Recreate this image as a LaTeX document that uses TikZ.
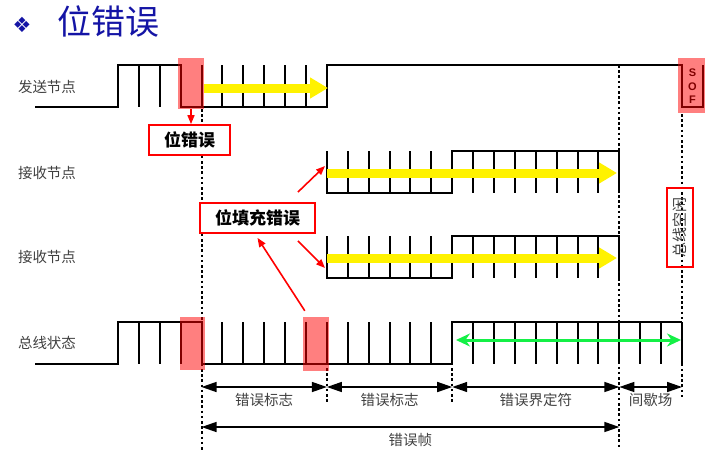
\documentclass[tikz,border=0pt]{standalone}
\usepackage{fontspec}
\setmainfont{Noto Sans CJK SC}
\newfontfamily\symfont{DejaVu Sans}
\newfontfamily\sofont{Liberation Sans}
\usetikzlibrary{arrows.meta}

\definecolor{titleblue}{RGB}{20,20,165}
\definecolor{signalgreen}{RGB}{20,240,70}
\newcommand\bitx[1]{118+#1*20.89}

\begin{document}
\begin{tikzpicture}[x=1pt, y=-1pt,
        every node/.style={font=\fontsize{14.5}{16}\selectfont, text=black!75},
        wave/.style={line width=2pt, line join=miter},
        errbox/.style={fill=red, fill opacity=0.5, draw=none, inner sep=0pt},
        tag/.style={draw=red, line width=1.8pt, fill=white, text=black, inner sep=0pt, font=\fontsize{17}{19}\selectfont\bfseries},
        guide/.style={line width=2pt, dash pattern=on 2.6pt off 2.6pt},
        flow/.style={yellow, line width=9pt, -{Triangle[length=18pt,width=20pt]}},
        hint/.style={red, line width=1.6pt, -{Triangle[length=9pt,width=7pt]}},
        span/.style={line width=1.5pt, {Triangle[length=15pt,width=10pt]}-{Triangle[length=15pt,width=10pt]}}
    ]
    \useasboundingbox (0,0) rectangle (724,456);

    % title
    \node[text=titleblue, font=\symfont\fontsize{21}{21}\selectfont] (mark) at (22,25) {❖};
    \node[text=titleblue, font=\fontsize{34}{36}\selectfont] (title) at (108,22) {位错误};

    % row labels
    \node (sender) at (47,87) {发送节点};
    \node (recv1) at (47,173) {接收节点};
    \node (recv2) at (47,257) {接收节点};
    \node (bus) at (47,343) {总线状态};

    % sender waveform
    \draw[wave] (35,107) -- ({\bitx{0}},107) -- ({\bitx{0}},65) -- ({\bitx{3}},65) -- ({\bitx{3}},107)
        -- ({\bitx{10}},107) -- ({\bitx{10}},65) -- ({\bitx{27}},65) -- ({\bitx{27}},107) -- ({\bitx{28}},107) -- ({\bitx{28}},65);
    \foreach \k in {1,2,4,5,6,7,8,9}
        \draw[wave] ({\bitx{\k}},65) -- ({\bitx{\k}},107);
    \node[text=black, font=\sofont\bfseries\fontsize{11}{13.5}\selectfont, align=center] (softext) at (692.5,86.5) {S\\O\\F};

    % receiver waveforms
    \foreach \hi/\lo in {151/193, 236/278} {
        \draw[wave] ({\bitx{10}},\hi) -- ({\bitx{10}},\lo) -- ({\bitx{16}},\lo) -- ({\bitx{16}},\hi)
            -- ({\bitx{24}},\hi) -- ({\bitx{24}},\lo);
        \foreach \k in {11,12,13,14,15,17,18,19,20,21,22,23}
            \draw[wave] ({\bitx{\k}},\hi) -- ({\bitx{\k}},\lo);
    }

    % bus waveform
    \draw[wave] (35,364) -- ({\bitx{0}},364) -- ({\bitx{0}},322) -- ({\bitx{4}},322) -- ({\bitx{4}},364)
        -- ({\bitx{16}},364) -- ({\bitx{16}},322) -- ({\bitx{27}},322);
    \foreach \k in {1,2,3,5,6,7,8,9,10,11,12,13,14,15}
        \draw[wave] ({\bitx{\k}},322) -- ({\bitx{\k}},364);
    \foreach \k in {17,18,19,20,21,22,23,24,25,26,27}
        \draw[wave] ({\bitx{\k}},322) -- ({\bitx{\k}},364);

    % dotted guides
    \draw[guide] ({\bitx{4}},109) -- ({\bitx{4}},450);
    \draw[guide] ({\bitx{24}},65) -- ({\bitx{24}},447);
    \draw[guide] ({\bitx{27}},114) -- ({\bitx{27}},398);
    \draw[guide] ({\bitx{10}},368) -- ({\bitx{10}},402);
    \draw[guide] ({\bitx{16}},368) -- ({\bitx{16}},402);

    % highlighted bits
    \node[errbox, minimum width=26pt, minimum height=51pt] (senderr) at (191,83.5) {};
    \node[errbox, minimum width=25pt, minimum height=53pt] (buserr1) at (192.5,343.5) {};
    \node[errbox, minimum width=26pt, minimum height=54pt] (buserr2) at (316,344) {};
    \node[errbox, minimum width=27pt, minimum height=55pt] (soferr) at (691.5,85.5) {};

    % yellow flow arrows
    \draw[flow] (204,88) -- (328,88);
    \draw[flow] (327,173) -- (617,173);
    \draw[flow] (327,258) -- (617,258);

    % green idle arrow
    \draw[signalgreen, line width=3pt, {Stealth[length=14pt,width=13pt]}-{Stealth[length=14pt,width=13pt]}] (456,340) -- (681,340);

    % error labels
    \node[tag, minimum width=81pt, minimum height=30pt] (biterr) at (189.5,140) {位错误};
    \node[tag, minimum width=115pt, minimum height=30pt] (stufferr) at (257.5,218) {位填充错误};
    \node[draw=red, line width=1.8pt, rotate=90, inner sep=0pt, minimum width=79pt, minimum height=26pt,
        font=\fontsize{15}{17}\selectfont] (idle) at (680,227.5) {总线空闲};

    \coordinate (rx1) at (325,166);
    \coordinate (rx2) at (325,268);
    \draw[hint] (senderr.south) -- (senderr.south |- biterr.north);
    \draw[hint] ([xshift=-18pt,yshift=10pt]stufferr.north east) -- (rx1);
    \draw[hint] ([xshift=-18pt,yshift=-7pt]stufferr.south east) -- (rx2);
    \draw[hint] ([xshift=2pt,yshift=6pt]buserr2.north west) -- ([yshift=-4pt]stufferr.south);

    % spans
    \foreach \k in {4,10,16,24,27}
        \coordinate (s\k) at ({\bitx{\k}},387);
    \coordinate (f4) at ({\bitx{4}},427);
    \coordinate (f24) at ({\bitx{24}},427);
    \draw[span] (s4) -- (s10) node[midway, below=2pt] (flag1) {错误标志};
    \draw[span] (s10) -- (s16) node[midway, below=2pt] (flag2) {错误标志};
    \draw[span] (s16) -- (s24) node[midway, below=2pt] (delim) {错误界定符};
    \draw[span] (s24) -- (s27) node[midway, below=2pt] (inter) {间歇场};
    \draw[span] (f4) -- (f24) node[midway, below=2pt] (frame) {错误帧};

\end{tikzpicture}
\end{document}
